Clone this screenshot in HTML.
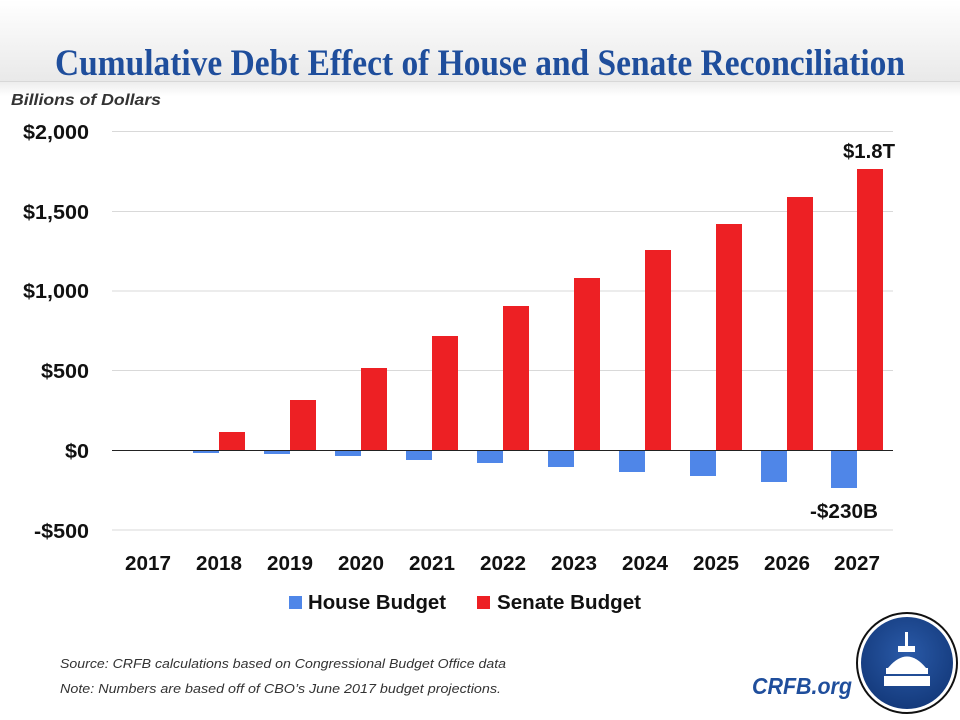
<!DOCTYPE html>
<html><head><meta charset="utf-8"><style>
html,body{margin:0;padding:0;background:#fff;width:960px;height:720px;overflow:hidden}
svg{display:block}
</style></head><body>
<svg width="960" height="720" xmlns="http://www.w3.org/2000/svg" font-family="Liberation Sans, sans-serif">
<defs>
<linearGradient id="hg" x1="0" y1="0" x2="0" y2="1">
<stop offset="0" stop-color="#ffffff"/><stop offset="1" stop-color="#e9e9e9"/></linearGradient>
<linearGradient id="hg2" x1="0" y1="0" x2="0" y2="1">
<stop offset="0" stop-color="#ededed"/><stop offset="1" stop-color="#ffffff"/></linearGradient>
<radialGradient id="lg" cx="0.5" cy="0.4" r="0.6">
<stop offset="0" stop-color="#2a5aa8"/><stop offset="1" stop-color="#143a7c"/></radialGradient>
</defs>
<rect x="0" y="0" width="960" height="81" fill="url(#hg)"/>
<rect x="0" y="81" width="960" height="1.5" fill="#d8d8d8"/>
<rect x="0" y="82" width="960" height="14" fill="url(#hg2)"/>
<text x="480" y="75" text-anchor="middle" font-family="Liberation Serif, serif" font-weight="bold" font-size="37" fill="#1f4e9c" textLength="850" lengthAdjust="spacingAndGlyphs">Cumulative Debt Effect of House and Senate Reconciliation</text>
<text x="11" y="105" font-style="italic" font-weight="bold" font-size="16" fill="#333" textLength="150" lengthAdjust="spacingAndGlyphs">Billions of Dollars</text>
<g stroke="#d9d9d9" stroke-width="1">
<line x1="112" y1="131.5" x2="893" y2="131.5"/>
<line x1="112" y1="211.5" x2="893" y2="211.5"/>
<line x1="112" y1="291" x2="893" y2="291"/>
<line x1="112" y1="370.5" x2="893" y2="370.5"/>
<line x1="112" y1="530" x2="893" y2="530"/>
</g>
<g font-weight="bold" font-size="20" fill="#111" text-anchor="end">
<text x="89" y="139" textLength="66" lengthAdjust="spacingAndGlyphs">$2,000</text>
<text x="89" y="219" textLength="66" lengthAdjust="spacingAndGlyphs">$1,500</text>
<text x="89" y="298" textLength="66" lengthAdjust="spacingAndGlyphs">$1,000</text>
<text x="89" y="378" textLength="48" lengthAdjust="spacingAndGlyphs">$500</text>
<text x="89" y="458" textLength="24" lengthAdjust="spacingAndGlyphs">$0</text>
<text x="89" y="538" textLength="55" lengthAdjust="spacingAndGlyphs">-$500</text>
</g>
<g fill="#4f86e8">
<rect x="193" y="450" width="26" height="3"/>
<rect x="264" y="450" width="26" height="4"/>
<rect x="335" y="450" width="26" height="6"/>
<rect x="406" y="450" width="26" height="10"/>
<rect x="477" y="450" width="26" height="13"/>
<rect x="548" y="450" width="26" height="17"/>
<rect x="619" y="450" width="26" height="22"/>
<rect x="690" y="450" width="26" height="26"/>
<rect x="761" y="450" width="26" height="32"/>
<rect x="831" y="450" width="26" height="38"/>
</g>
<g fill="#ed2024">
<rect x="219" y="432" width="26" height="18"/>
<rect x="290" y="400" width="26" height="50"/>
<rect x="361" y="368" width="26" height="82"/>
<rect x="432" y="336" width="26" height="114"/>
<rect x="503" y="306" width="26" height="144"/>
<rect x="574" y="278" width="26" height="172"/>
<rect x="645" y="250" width="26" height="200"/>
<rect x="716" y="224" width="26" height="226"/>
<rect x="787" y="197" width="26" height="253"/>
<rect x="857" y="169" width="26" height="281"/>
</g>
<line x1="112" y1="450.5" x2="893" y2="450.5" stroke="#222" stroke-width="1"/>
<g font-weight="bold" font-size="20" fill="#111" text-anchor="middle">
<text x="148" y="570" textLength="46" lengthAdjust="spacingAndGlyphs">2017</text>
<text x="219" y="570" textLength="46" lengthAdjust="spacingAndGlyphs">2018</text>
<text x="290" y="570" textLength="46" lengthAdjust="spacingAndGlyphs">2019</text>
<text x="361" y="570" textLength="46" lengthAdjust="spacingAndGlyphs">2020</text>
<text x="432" y="570" textLength="46" lengthAdjust="spacingAndGlyphs">2021</text>
<text x="503" y="570" textLength="46" lengthAdjust="spacingAndGlyphs">2022</text>
<text x="574" y="570" textLength="46" lengthAdjust="spacingAndGlyphs">2023</text>
<text x="645" y="570" textLength="46" lengthAdjust="spacingAndGlyphs">2024</text>
<text x="716" y="570" textLength="46" lengthAdjust="spacingAndGlyphs">2025</text>
<text x="787" y="570" textLength="46" lengthAdjust="spacingAndGlyphs">2026</text>
<text x="857" y="570" textLength="46" lengthAdjust="spacingAndGlyphs">2027</text>
<text x="869" y="158" textLength="52" lengthAdjust="spacingAndGlyphs">$1.8T</text>
<text x="844" y="518" textLength="68" lengthAdjust="spacingAndGlyphs">-$230B</text>
</g>
<rect x="289" y="596" width="13" height="13" fill="#4f86e8"/>
<rect x="477" y="596" width="13" height="13" fill="#ed2024"/>
<g font-weight="bold" font-size="20" fill="#111">
<text x="308" y="609" textLength="138" lengthAdjust="spacingAndGlyphs">House Budget</text>
<text x="497" y="609" textLength="144" lengthAdjust="spacingAndGlyphs">Senate Budget</text>
</g>
<g font-style="italic" font-size="13" fill="#333">
<text x="60" y="668" textLength="446" lengthAdjust="spacingAndGlyphs">Source: CRFB calculations based on Congressional Budget Office data</text>
<text x="60" y="693" textLength="441" lengthAdjust="spacingAndGlyphs">Note: Numbers are based off of CBO’s June 2017 budget projections.</text>
</g>
<text x="752" y="694" font-style="italic" font-weight="bold" font-size="23" fill="#1f4e9c" textLength="100" lengthAdjust="spacingAndGlyphs">CRFB.org</text>
<circle cx="907" cy="663" r="50" fill="#fff" stroke="#111" stroke-width="2"/>
<circle cx="907" cy="663" r="46" fill="url(#lg)"/>
<g fill="#fff">
<rect x="905" y="632" width="3" height="14"/>
<rect x="898" y="646" width="17" height="6"/>
<path d="M888 668 Q907 645 926 668 Z"/>
<rect x="886" y="668" width="42" height="6"/>
<rect x="884" y="676" width="46" height="10"/>
</g>
</svg>
</body></html>
